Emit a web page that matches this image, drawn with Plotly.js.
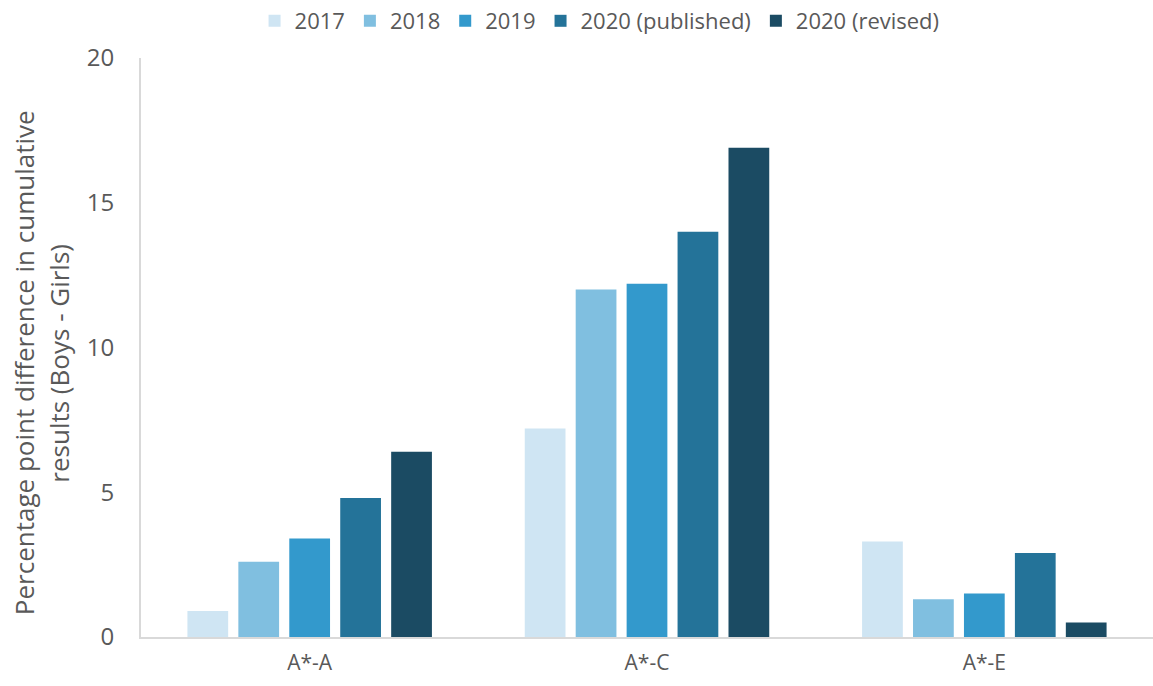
<!DOCTYPE html>
<html>
<head>
<meta charset="utf-8">
<script src="https://cdn.plot.ly/plotly-3.0.1.min.js"></script>
<style>
  html, body { margin: 0; padding: 0; background: #fff; }
  #chart { width: 1153px; height: 686px; }
</style>
</head>
<body>
<div id="chart"></div>
<script>
// categories and series
var categories = ["A*-A", "A*-C", "A*-E"];
var seriesNames = ["2017", "2018", "2019", "2020 (published)", "2020 (revised)"];
var v2017 = [0.9, 7.2, 3.3];
var v2018 = [2.6, 12.0, 1.3];
var v2019 = [3.4, 12.2, 1.5];
var v2020pub = [4.8, 14.0, 2.9];
var v2020rev = [6.4, 16.9, 0.5];
var colours = ["#cfe5f3", "#80bfe0", "#3399cc", "#247399", "#1b4b63"];
var yTitleLines = ["Percentage point difference in cumulative", "results (Boys - Girls)"];

var allValues = [v2017, v2018, v2019, v2020pub, v2020rev];

var traces = [];
for (var i = 0; i < seriesNames.length; i++) {
    traces.push({
        type: "bar",
        name: seriesNames[i],
        x: categories,
        y: allValues[i],
        marker: { color: colours[i] },
        hoverinfo: "x+y+name"
    });
}

var textCol = "#595959";

// y title drawn as two rotated lines so the line spacing matches
var titleX = [-0.1156, -0.0805];
var annotations = [];
for (var j = 0; j < yTitleLines.length; j++) {
    annotations.push({
        text: yTitleLines[j],
        xref: "paper", yref: "paper",
        x: titleX[j], y: 0.473,
        xanchor: "center", yanchor: "middle",
        textangle: -90,
        showarrow: false,
        font: { size: 26, color: textCol }
    });
}

var layout = {
    width: 1153,
    height: 686,
    margin: { l: 141, r: 0, t: 58, b: 49 },
    paper_bgcolor: "#fff",
    plot_bgcolor: "#fff",
    font: { family: "Open Sans, Noto Sans, sans-serif", color: textCol },
    barmode: "group",
    bargap: 0.245,
    bargroupgap: 0.2,
    showlegend: true,
    legend: {
        orientation: "h",
        x: 0.52,
        xref: "container",
        xanchor: "center",
        y: 1,
        yref: "container",
        yanchor: "top",
        font: { size: 22, color: textCol },
        itemwidth: 30,
        traceorder: "normal"
    },
    annotations: annotations,
    xaxis: {
        type: "category",
        showgrid: false,
        showline: true,
        linecolor: "#d9d9d9",
        linewidth: 2,
        ticks: "",
        tickfont: { size: 21, color: textCol },
        ticklabelstandoff: 6
    },
    yaxis: {
        range: [0, 20],
        dtick: 5,
        showgrid: false,
        zeroline: false,
        showline: true,
        linecolor: "#d9d9d9",
        linewidth: 2,
        ticks: "",
        tickfont: { size: 24, color: textCol },
        ticklabelstandoff: 20
    }
};

Plotly.newPlot("chart", traces, layout, { displayModeBar: false, staticPlot: true });
</script>
</body>
</html>
